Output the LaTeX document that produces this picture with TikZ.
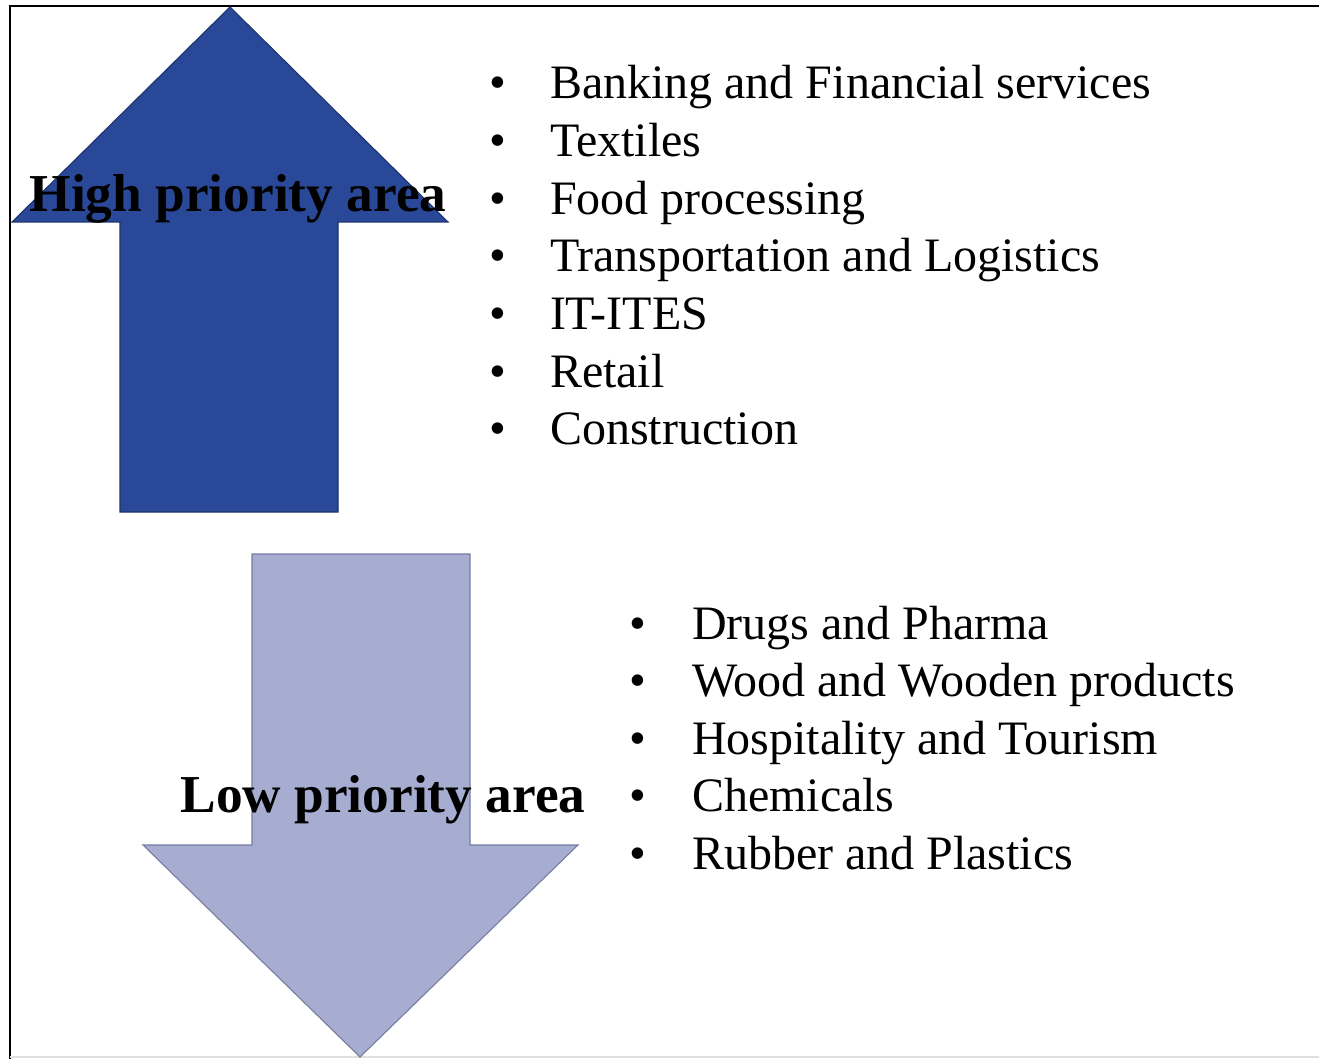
\documentclass[tikz,border=0pt]{standalone}
\usepackage{fontspec}
\setmainfont{Liberation Serif}
\usepackage{tikz}
\usetikzlibrary{positioning,calc}

\definecolor{highblue}{RGB}{41,73,152}
\definecolor{highedge}{RGB}{28,50,110}
\definecolor{lowblue}{RGB}{166,173,208}
\definecolor{lowedge}{RGB}{118,124,160}

\begin{document}
\begin{tikzpicture}[x=0.75pt, y=-0.75pt,
            every node/.style={inner sep=0pt, outer sep=0pt},
            arealabel/.style={anchor=base, font=\fontsize{40}{48}\selectfont\bfseries},
            bulletmark/.style={anchor=base, font=\fontsize{36}{43}\selectfont},
            itemtext/.style={anchor=base west, font=\fontsize{36}{43}\selectfont}]
        \useasboundingbox (0,0) rectangle (1319,1059);
        % frame
        \draw[line width=1.5pt] (1319,6) -- (10,6) -- (10,1059);
        \draw[line width=1.5pt, black!12] (10,1057) -- (1319,1057);
        % up arrow
        \filldraw[fill=highblue, draw=highedge, line width=0.8pt]
            (230,7) -- (448,222) -- (338,222) -- (338,512) -- (120,512)
            -- (120,222) -- (12,222) -- cycle;
        % down arrow
        \filldraw[fill=lowblue, draw=lowedge, line width=0.8pt]
            (252,554) -- (470,554) -- (470,845) -- (578,845) -- (360,1057)
            -- (143,845) -- (252,845) -- cycle;
        % labels
        \node[arealabel] (high) at (238,212) {High priority area};
        \node[arealabel] (low) at (383,812) {Low priority area};
        % high priority sectors
        \foreach \txt [count=\i] in {Banking and Financial services, Textiles,
                Food processing, Transportation and Logistics, IT-ITES,
                Retail, Construction} {
            \node[bulletmark] (hb\i) at (498,{99+57.6*(\i-1)}) {\textbullet};
            \node[itemtext] (hi\i) at (550,{99+57.6*(\i-1)}) {\txt};
        }
        % low priority sectors
        \foreach \txt [count=\i] in {Drugs and Pharma, Wood and Wooden products,
                Hospitality and Tourism, Chemicals, Rubber and Plastics} {
            \node[bulletmark] (lb\i) at (638,{639+57.6*(\i-1)}) {\textbullet};
            \node[itemtext] (lo\i) at (692,{639+57.6*(\i-1)}) {\txt};
        }
\end{tikzpicture}
\end{document}
